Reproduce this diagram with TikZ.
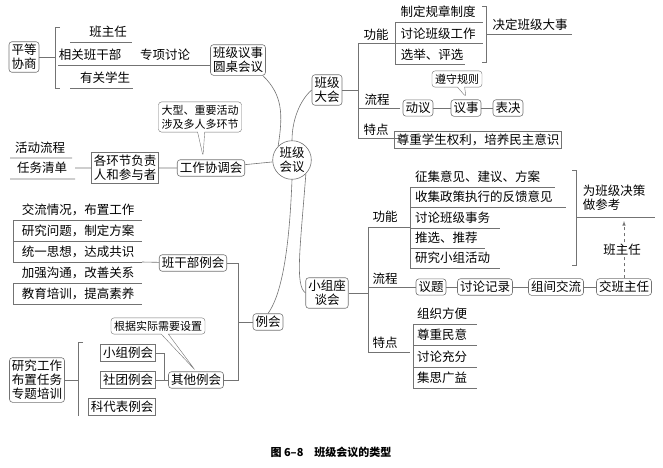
\documentclass[tikz,border=0pt]{standalone}
\usepackage{fontspec}
\setmainfont{Noto Sans CJK SC}
\usetikzlibrary{positioning,shapes.callouts}
\begin{document}
\begin{tikzpicture}[x=1pt,y=-1pt,font=\fontsize{12.5}{14}\selectfont,
  line/.style={draw=black!55,line width=0.6pt},
  box/.style={draw=black!55,rounded corners=3pt,inner sep=2.5pt,align=center,line width=0.6pt},
  sbox/.style={draw=black!55,inner sep=2.5pt,line width=0.6pt},
  word/.style={inner sep=1pt},
  call/.style={rectangle callout,draw=black!55,rounded corners=3pt,align=center,inner sep=3pt,font=\fontsize{11}{14}\selectfont}]
\useasboundingbox (0,0) rectangle (663,467);
% centre
\node[circle,draw=black!55,line width=0.6pt,inner sep=1pt,align=center] (root) at (292,160) {班级\\会议};
% round table
\node[box] (yuanzhuo) at (238,60) {班级议事\\圆桌会议};
\node[box] (pingdeng) at (24,57) {平等\\协商};
\node[word] (bzr1) at (108,32) {班主任};
\node[word] (gbb) at (90,55) {相关班干部};
\node[word] (youguan) at (105,78) {有关学生};
\node[word] (zhuanxiang) at (165,55) {专项讨论};
\draw[line] (70,42) -- (132,42) (58,65) -- (yuanzhuo.west|-0,65) (70,88) -- (133,88);
\draw[line] (60,27) -- (55,27) -- (55,88) -- (60,88) (pingdeng) -- (55,57);
% coordination
\node[box] (xietiao) at (211,168) {工作协调会};
\node[call,callout absolute pointer={(203,156)}] (daxing) at (200,117) {大型、重要活动\\涉及多人多环节};
\node[sbox,align=center] (gehuanjie) at (125,168) {各环节负责\\人和参与者};
\node[word] (liucheng0) at (40,148) {活动流程};
\node[word] (qingdan) at (42,168) {任务清单};
\draw[line] (10,158) -- (72,158) (10,179) -- (75,179) (75,168) -- (gehuanjie) (gehuanjie) -- (xietiao) (xietiao) -- (root);
% class cadre meeting
\foreach \t [count=\i] in {交流情况，布置工作,研究问题，制定方案,统一思想，达成共识,加强沟通，改善关系,教育培训，提高素养}
  \node[word] (gb\i) at (78,189+21*\i) {\t};
\foreach \y in {220,241,262,283,304} \draw[line] (13,\y) -- (142,\y);
\foreach \y in {220,241,283} \draw[line] (13,\y) -- (13,\y+21);
\node[box] (ganbu) at (193,263) {班干部例会};
\draw[line] (142,262) -- (ganbu);
\node[box] (lihui) at (268,322) {例会};
\node[box] (qita) at (196,380) {其他例会};
\draw[line] (ganbu.east) -- (238,263) -- (238,380) -- (qita.east) (238,322) -- (lihui);
\node[call,callout absolute pointer={(195,370)}] (genju) at (158,326) {根据实际需要设置};
\node[sbox] (xiaozu) at (128,353) {小组例会};
\node[sbox] (shetuan) at (128,380) {社团例会};
\node[sbox] (kedaibiao) at (122,407) {科代表例会};
\draw[line] (xiaozu.east) -- (164,353) -- (164,380) (shetuan) -- (qita);
\node[box] (yanjiu) at (37,380) {研究工作\\布置任务\\专题培训};
\draw[line] (83,342) -- (78,342) -- (78,416) (yanjiu) -- (78,380);
% class assembly
\node[box] (dahui) at (327,90) {班级\\大会};
\node[word] (gn1) at (376,35) {功能};
\node[word] (lc1) at (377,100) {流程};
\node[word] (td1) at (376,130) {特点};
\draw[line] (dahui) -- (358,90) (400,43) -- (358,43) -- (358,138) -- (400,138) (358,108) -- (400,108);
\node[word] (zhiding) at (438,12) {制定规章制度};
\node[word] (taolun1) at (438,34) {讨论班级工作};
\node[word] (xuanju) at (432,55) {选举、评选};
\draw[line] (395,22) -- (483,22) (395,43) -- (483,43) (395,64) -- (465,64) (395,22) -- (395,64);
\draw[line] (482,6) -- (486,6) -- (486,62) -- (482,62);
\node[word] (jueding) at (530,25) {决定班级大事};
\draw[line] (486,34) -- (572,34);
\node[box] (dongyi) at (418,108) {动议};
\node[box] (yishi) at (466,108) {议事};
\node[box] (biaojue) at (508,108) {表决};
\draw[line] (dongyi) -- (yishi) (yishi) -- (biaojue);
\node[call,callout absolute pointer={(466,97)}] (zunshou) at (457,79) {遵守规则};
\node[sbox] (zunzhong) at (478,140) {尊重学生权利，培养民主意识};
% group meeting
\node[box] (zuotan) at (327,293) {小组座\\谈会};
\node[word] (gn2) at (385,217) {功能};
\node[word] (lc2) at (385,279) {流程};
\node[word] (td2) at (385,343) {特点};
\draw[line] (zuotan) -- (368,293) (410,227) -- (368,227) -- (368,352) -- (410,352);
\foreach \t/\y/\r [count=\i] in {征集意见、建议、方案/177/555,收集政策执行的反馈意见/197/566,讨论班级事务/218/500,推选、推荐/238/485,研究小组活动/258/500}
  { \node[word,anchor=west] (zt\i) at (414,\y) {\t};
    \draw[line] (410,\y+10) -- (\r,\y+10); }
\draw[line] (410,187) -- (410,268);
\draw[line] (572,170) -- (576,170) -- (576,265) -- (572,265);
\node[word,align=left] (cankao) at (614,198) {为班级决策\\做参考};
\draw[line] (576,217) -- (655,217);
\node[box] (yiti) at (431,287) {议题};
\node[box] (jilu) at (485,287) {讨论记录};
\node[box] (jiaoliu) at (556,287) {组间交流};
\node[box] (jiaoban) at (624,287) {交班主任};
\draw[line] (yiti) -- (jilu) (jilu) -- (jiaoliu) (jiaoliu) -- (jiaoban) (yiti.west) -- (368,287);
\draw[line,dashed,-latex] (jiaoban) -- (624,221);
\node[word,fill=white] (bzr2) at (622,250) {班主任};
\foreach \t/\y [count=\i] in {组织方便/314,尊重民意/335,讨论充分/357,集思广益/378}
  { \node[word,anchor=west] (td\i) at (416,\y) {\t};
    \draw[line] (413,\y+10) -- (477,\y+10); }
\draw[line] (413,324) -- (413,388);
% curves from centre
\draw[line] (yuanzhuo.south east) ++(-3,0) .. controls (283,95) and (283,115) .. (root.north west);
\draw[line] (root.north) .. controls (292,120) and (300,100) .. (dahui.west);
\draw[line] (root.south east) .. controls (300,250) and (295,285) .. (zuotan.west);
\draw[line] (root.south) .. controls (290,230) and (285,290) .. (lihui.north);
% caption
\node[font=\fontsize{11}{12}\selectfont\bfseries] (caption) at (331,452) {图 6–8\quad 班级会议的类型};
\end{tikzpicture}
\end{document}
